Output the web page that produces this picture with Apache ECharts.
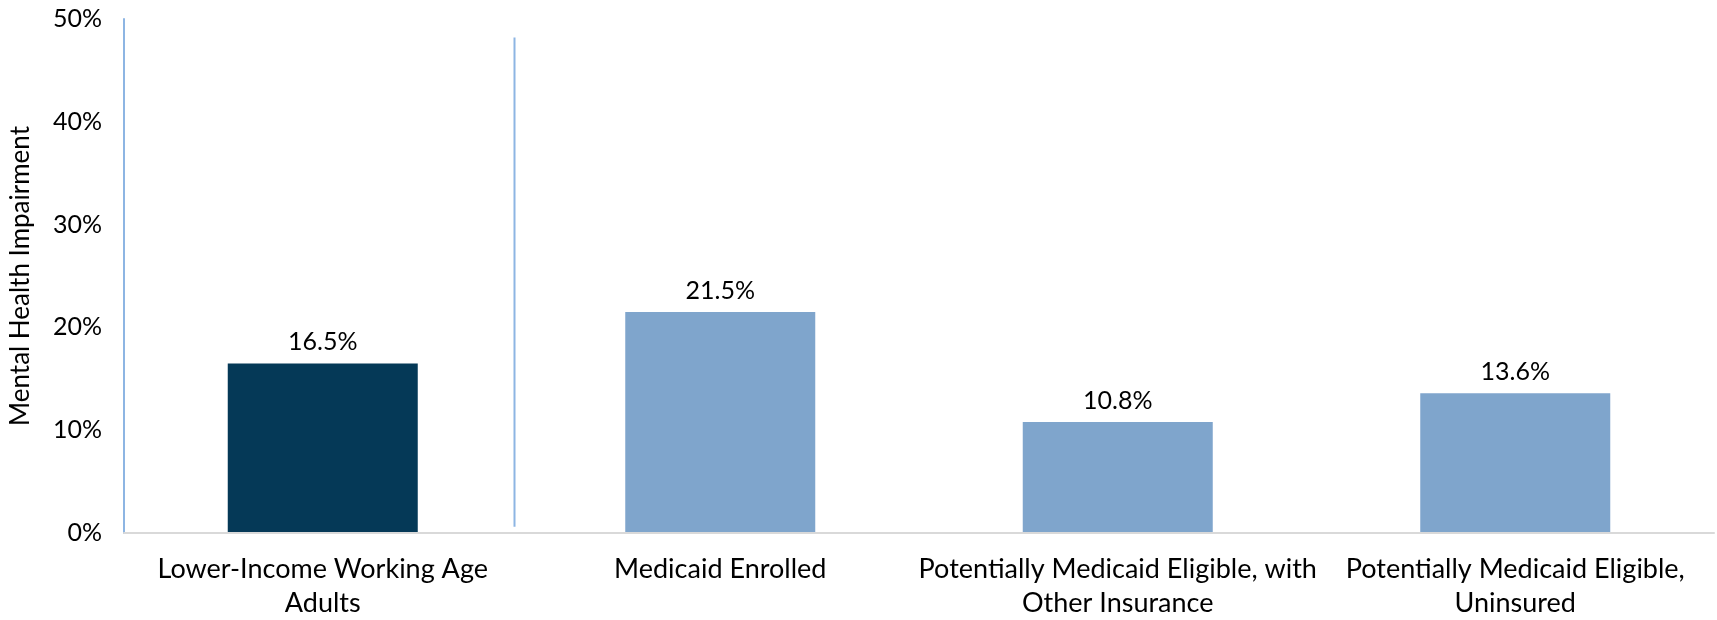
<!DOCTYPE html>
<html>
<head>
<meta charset="utf-8">
<script src="https://cdn.jsdelivr.net/npm/echarts@6/dist/echarts.min.js"></script>
<style>
  html, body { margin: 0; padding: 0; background: #ffffff; }
  #chart { width: 1717px; height: 620px; }
</style>
</head>
<body>
<div id="chart"></div>
<script>
// Share of lower-income working-age adults reporting a mental health impairment
const categories = [
  'Lower-Income Working Age\nAdults',
  'Medicaid Enrolled',
  'Potentially Medicaid Eligible, with\nOther Insurance',
  'Potentially Medicaid Eligible,\nUninsured'
];
const values = [16.5, 21.5, 10.8, 13.6];
const barColors = ['#053957', '#7FA5CC', '#7FA5CC', '#7FA5CC'];
const yTicks = { min: 0, max: 50, interval: 10 };

const FONT = 'Lato, "Open Sans", sans-serif';
const AXIS_BLUE = '#8DB5E3';

const chart = echarts.init(document.getElementById('chart'), null, { renderer: 'canvas' });

chart.setOption({
  animation: false,
  backgroundColor: '#ffffff',
  grid: { left: 123, right: 3, top: 19, bottom: 86, containLabel: false },
  xAxis: {
    type: 'category',
    data: categories,
    axisLine: { show: true, lineStyle: { color: '#D9D9D9', width: 2 } },
    axisTick: { show: false },
    axisLabel: {
      interval: 0,
      color: '#000000',
      fontFamily: FONT,
      fontSize: 27,
      lineHeight: 34,
      margin: 19
    },
    z: 3
  },
  yAxis: {
    type: 'value',
    min: yTicks.min,
    max: yTicks.max,
    interval: yTicks.interval,
    name: 'Mental Health Impairment',
    nameLocation: 'middle',
    nameGap: 90,
    nameTextStyle: { color: '#000000', fontFamily: FONT, fontSize: 26 },
    axisLine: { show: true, lineStyle: { color: AXIS_BLUE, width: 2 } },
    axisTick: { show: false },
    splitLine: { show: false },
    axisLabel: {
      color: '#000000',
      fontFamily: FONT,
      fontSize: 25,
      margin: 22,
      formatter: '{value}%'
    }
  },
  series: [{
    type: 'bar',
    data: values.map((v, i) => ({ value: v, itemStyle: { color: barColors[i] } })),
    barWidth: 190,
    label: {
      show: true,
      position: 'top',
      distance: 9,
      color: '#000000',
      fontFamily: FONT,
      fontSize: 25,
      formatter: p => p.value.toFixed(1) + '%'
    }
  }]
});

// Separator between the overall group and its coverage subgroups
function drawSeparator() {
  const x0 = chart.convertToPixel({ xAxisIndex: 0 }, 0);
  const x1 = chart.convertToPixel({ xAxisIndex: 0 }, 1);
  const x = Math.round(x0 + (x1 - x0) * 0.482) + 0.5;
  const yTop = chart.convertToPixel({ yAxisIndex: 0 }, 48.2);
  const yBottom = chart.convertToPixel({ yAxisIndex: 0 }, 0.6);
  chart.setOption({
    graphic: [{
      type: 'line',
      shape: { x1: x, y1: yTop, x2: x, y2: yBottom },
      style: { stroke: AXIS_BLUE, lineWidth: 2 },
      silent: true
    }]
  });
}
drawSeparator();
</script>
</body>
</html>
